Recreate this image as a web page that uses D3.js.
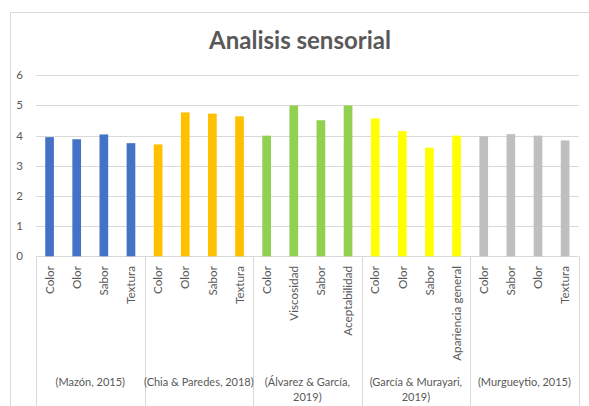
<!DOCTYPE html>
<html><head><meta charset="utf-8">
<script src="https://cdn.jsdelivr.net/npm/d3@7"></script>
<style>body{margin:0;background:#fff;} svg{display:block;}</style>
</head><body>
<svg id="c" width="589" height="406"></svg>
<script>
const groups = ["(Mazón, 2015)", "(Chia & Paredes, 2018)", "(Álvarez & García, 2019)", "(García & Murayari, 2019)", "(Murgueytio, 2015)"];
const groupLines = [["(Mazón, 2015)"], ["(Chia & Paredes, 2018)"], ["(Álvarez & García,", "2019)"], ["(García & Murayari,", "2019)"], ["(Murgueytio, 2015)"]];
const categories = [
  ["Color", "Olor", "Sabor", "Textura"],
  ["Color", "Olor", "Sabor", "Textura"],
  ["Color", "Viscosidad", "Sabor", "Aceptabilidad"],
  ["Color", "Olor", "Sabor", "Apariencia general"],
  ["Color", "Sabor", "Olor", "Textura"]
];
const values = [
  [3.95, 3.88, 4.04, 3.75],
  [3.71, 4.77, 4.73, 4.64],
  [4.00, 5.00, 4.51, 5.00],
  [4.57, 4.15, 3.60, 4.00],
  [3.98, 4.05, 4.00, 3.84]
];
const colors = ["#4472C4", "#FFC000", "#92D050", "#FFFF00", "#BFBFBF"];
const yTicks = [0, 1, 2, 3, 4, 5, 6];

(function () {
const svg = d3.select("#c");
const font = "Lato, 'Open Sans', sans-serif";
const mLeft = 36, mRight = 578.7, mTop = 75.3, mBottom = 256.3;

// chart frame
svg.append("path").attr("d", `M10.5,406 V12.5 H589`).attr("fill", "none").attr("stroke", "#D9D9D9").attr("stroke-width", 1);

const y = d3.scaleLinear().domain([0, 6]).range([mBottom, mTop]);
const xg = d3.scaleBand().domain(d3.range(groups.length)).range([mLeft, mRight]).paddingInner(0).paddingOuter(0);

// gridlines
svg.append("g").selectAll("line").data(yTicks).join("line")
  .attr("x1", mLeft).attr("x2", mRight)
  .attr("y1", d => Math.round(y(d)) + 0.5).attr("y2", d => Math.round(y(d)) + 0.5)
  .attr("stroke", "#D9D9D9").attr("stroke-width", 1);

// y axis labels
svg.append("g").selectAll("text").data(yTicks).join("text")
  .attr("x", 23).attr("y", d => y(d)).attr("dy", "0.35em")
  .attr("text-anchor", "end").attr("font-family", font).attr("font-size", 11.5)
  .attr("fill", "#595959").text(d => d);

// separators
const seps = d3.range(groups.length + 1).map(i => i < groups.length ? xg(i) : mRight);
svg.append("g").selectAll("line").data(seps).join("line")
  .attr("x1", d => Math.round(d) + 0.5).attr("x2", d => Math.round(d) + 0.5)
  .attr("y1", mBottom).attr("y2", 406)
  .attr("stroke", "#D9D9D9").attr("stroke-width", 1);

groups.forEach((g, gi) => {
  const xc = d3.scaleBand().domain(d3.range(categories[gi].length))
    .range([xg(gi), xg(gi) + xg.bandwidth()]).paddingInner(0.68).paddingOuter(0.34);
  const gg = svg.append("g");
  gg.selectAll("rect").data(values[gi]).join("rect")
    .attr("x", (d, i) => xc(i)).attr("width", xc.bandwidth())
    .attr("y", d => y(d)).attr("height", d => mBottom - y(d))
    .attr("fill", colors[gi]);
  gg.selectAll("text.cat").data(categories[gi]).join("text").attr("class", "cat")
    .attr("transform", (d, i) => `translate(${xc(i) + xc.bandwidth() / 2 + 4.2},266) rotate(-90)`)
    .attr("text-anchor", "end").attr("font-family", font).attr("font-size", 11.7)
    .attr("fill", "#595959").text(d => d);
  const cx = xg(gi) + xg.bandwidth() / 2;
  gg.selectAll("text.grp").data(groupLines[gi]).join("text").attr("class", "grp")
    .attr("x", cx).attr("y", (d, i) => 386 + i * 15)
    .attr("text-anchor", "middle").attr("font-family", font).attr("font-size", 11)
    .attr("fill", "#595959").text(d => d);
});

// title
svg.append("text").attr("x", 300).attr("y", 49).attr("text-anchor", "middle")
  .attr("font-family", font).attr("font-size", 24).attr("font-weight", "bold")
  .attr("fill", "#595959").text("Analisis sensorial");
})();
</script>
</body></html>
